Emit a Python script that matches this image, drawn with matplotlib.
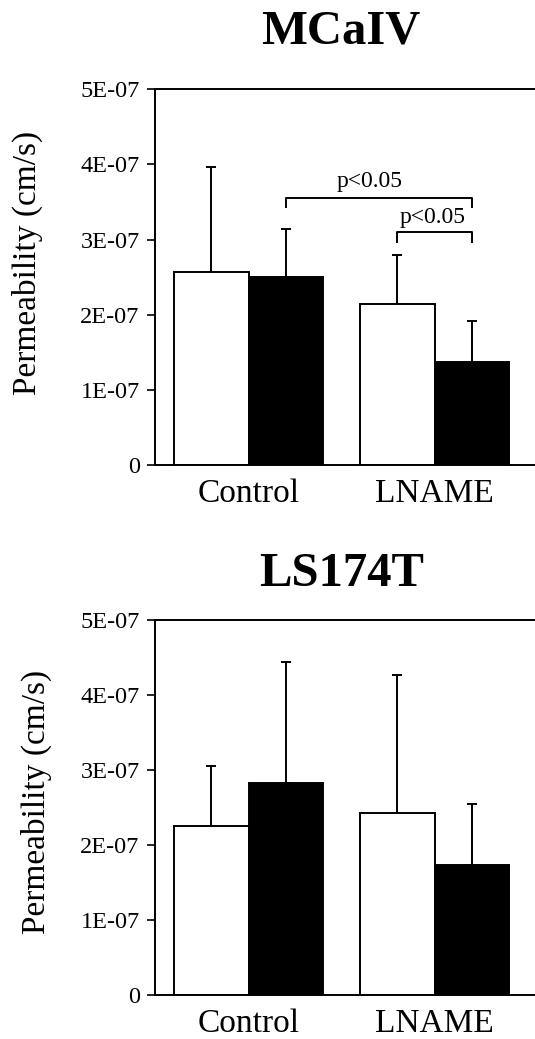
import matplotlib
matplotlib.use("Agg")
import matplotlib.pyplot as plt
import numpy as np

groups = ["Control", "LNAME"]
yticks = [0, 1e-7, 2e-7, 3e-7, 4e-7, 5e-7]
ytick_labels = ["0", "1E-07", "2E-07", "3E-07", "4E-07", "5E-07"]

mcaiv_white = [2.57e-7, 2.14e-7]
mcaiv_white_err = [1.40e-7, 0.66e-7]
mcaiv_black = [2.50e-7, 1.37e-7]
mcaiv_black_err = [0.64e-7, 0.55e-7]

ls_white = [2.26e-7, 2.43e-7]
ls_white_err = [0.80e-7, 1.84e-7]
ls_black = [2.83e-7, 1.73e-7]
ls_black_err = [1.61e-7, 0.82e-7]

plt.rcParams['font.family'] = ['Liberation Serif', 'DejaVu Serif']

W, H = 535, 1039
fig = plt.figure(figsize=(W / 100, H / 100), dpi=100)

def make_axes(top_px, bottom_px):
    left = 155 / W
    b = 1 - bottom_px / H
    h = (bottom_px - top_px) / H
    return fig.add_axes([left, b, 1 - left, h])

ax1 = make_axes(89.3, 465)
ax2 = make_axes(620.3, 995)

x = np.arange(len(groups))
bw = 0.4

def draw(ax, white, werr, black, berr, title, title_pad, lab_x, lab_y):
    ax.bar(x - bw / 2, white, bw, color='white', edgecolor='black', linewidth=1.4, zorder=2)
    ax.bar(x + bw / 2, black, bw, color='black', edgecolor='black', linewidth=1.4, zorder=2)
    ax.errorbar(x - bw / 2, white, yerr=[np.zeros(len(white)), werr], fmt='none',
                ecolor='black', elinewidth=1.4, capsize=3.4, capthick=1.4, zorder=1)
    ax.errorbar(x + bw / 2, black, yerr=[np.zeros(len(black)), berr], fmt='none',
                ecolor='black', elinewidth=1.4, capsize=3.4, capthick=1.4, zorder=1)
    ax.set_xlim(-0.503, 1.54)
    ax.set_ylim(0, 5e-7)
    ax.set_yticks(yticks)
    ax.set_yticklabels(ytick_labels, fontsize=17.5)
    ax.set_xticks(x)
    ax.set_xticklabels(groups, fontsize=24)
    ax.tick_params(axis='x', length=0, pad=10)
    ax.tick_params(axis='y', length=6, width=1.2, pad=5, direction='out')
    for s in ['left', 'bottom', 'top']:
        ax.spines[s].set_linewidth(1.4)
    ax.spines['right'].set_visible(False)
    ax.set_ylabel("Permeability (cm/s)", fontsize=24)
    ax.yaxis.label.set_va('center')
    ax.yaxis.set_label_coords(lab_x, lab_y)
    ax.set_title(title, fontsize=35, fontweight='bold', pad=title_pad, x=0.49)

draw(ax1, mcaiv_white, mcaiv_white_err, mcaiv_black, mcaiv_black_err, "MCaIV", 33, -0.3355, 0.538)
draw(ax2, ls_white, ls_white_err, ls_black, ls_black_err, "LS174T", 25, -0.313, 0.515)

# significance brackets (MCaIV)
def bracket(ax, x0, x1, y, drop, text, tx, ty):
    ax.plot([x0, x0, x1, x1], [y - drop, y, y, y - drop], color='black', lw=1.4, clip_on=False)
    ax.text(tx, ty, text, ha='center', va='center', fontsize=17)

bracket(ax1, 0 + bw / 2, 1 + bw / 2, 3.557e-7, 0.12e-7, "p<0.05", 0.653, 3.77e-7)
bracket(ax1, 1 - bw / 2, 1 + bw / 2, 3.10e-7, 0.13e-7, "p<0.05", 0.987, 3.30e-7)

fig.savefig("out.png", dpi=100)
